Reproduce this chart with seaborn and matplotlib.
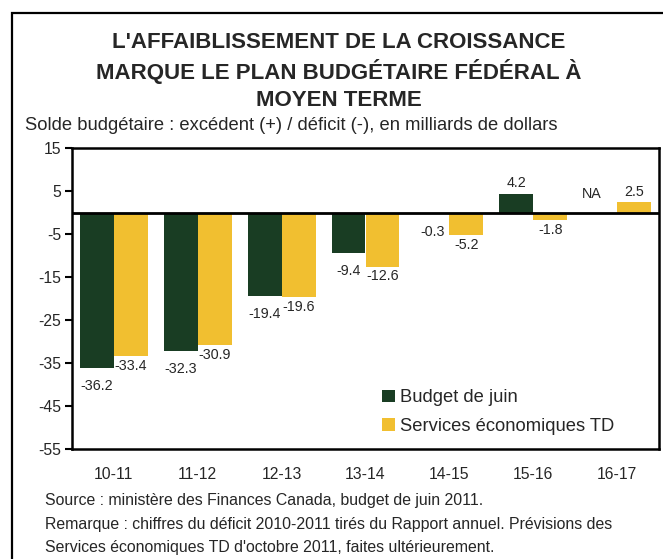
import numpy as np
import pandas as pd
import matplotlib
matplotlib.use("Agg")
import matplotlib.pyplot as plt
from matplotlib.patches import Rectangle
import seaborn as sns

# ---- data ----
years = ["10-11", "11-12", "12-13", "13-14", "14-15", "15-16", "16-17"]
budget_juin = [-36.2, -32.3, -19.4, -9.4, -0.3, 4.2, np.nan]
services_td = [-33.4, -30.9, -19.6, -12.6, -5.2, -1.8, 2.5]
series_names = ["Budget de juin", "Services économiques TD"]
colors = ["#193d23", "#f1bf30"]
y_ticks = [15, 5, -5, -15, -25, -35, -45, -55]

title_lines = ["L'AFFAIBLISSEMENT DE LA CROISSANCE",
               "MARQUE LE PLAN BUDGÉTAIRE FÉDÉRAL À",
               "MOYEN TERME"]
subtitle = "Solde budgétaire : excédent (+) / déficit (-), en milliards de dollars"
notes = ["Source : ministère des Finances Canada, budget de juin 2011.",
         "Remarque : chiffres du déficit 2010-2011 tirés du Rapport annuel. Prévisions des",
         "Services économiques TD d'octobre 2011, faites ultérieurement."]

df = pd.DataFrame({
    "annee": years * 2,
    "valeur": budget_juin + services_td,
    "serie": [series_names[0]] * len(years) + [series_names[1]] * len(years),
})

sns.set_theme(style="white")
plt.rcParams["font.family"] = ["Liberation Sans", "DejaVu Sans"]

W, H = 663, 559
fig = plt.figure(figsize=(W / 100, H / 100), dpi=100)
ax = fig.add_axes([72 / W, 1 - 449 / H, (659 - 72) / W, (449 - 148) / H])

sns.barplot(data=df, x="annee", y="valeur", hue="serie", order=years,
            hue_order=series_names, palette=colors, width=0.81, gap=0,
            saturation=1, errorbar=None, ax=ax, edgecolor="none", linewidth=0)

ax.set_xlim(-0.5, len(years) - 0.5)
ax.set_ylim(-55, 15)
ax.set_yticks(y_ticks)
ax.set_yticklabels([str(t) for t in y_ticks], fontsize=11.3)
ax.set_xlabel("")
ax.set_ylabel("")
ax.tick_params(axis="x", length=0, pad=13, labelsize=11.3)
ax.tick_params(axis="y", left=True, length=5, width=1.5, pad=3, color="black")
for s in ax.spines.values():
    s.set_visible(True)
    s.set_color("black")
    s.set_linewidth(1.8)
ax.axhline(0, color="black", lw=2, zorder=5)

# bar value labels
pads_neg = [13, 7]
pads_pos = [8, 7]
for ci, cont in enumerate(ax.containers):
    for p in cont.patches:
        h = p.get_height()
        if np.isnan(h):
            continue
        xc = p.get_x() + p.get_width() / 2
        if h < 0:
            ax.annotate(f"{h:.1f}", (xc, h), xytext=(0, -pads_neg[ci]),
                        textcoords="offset points", ha="center", va="center",
                        fontsize=10.3)
        else:
            ax.annotate(f"{h:.1f}", (xc, h), xytext=(0, pads_pos[ci]),
                        textcoords="offset points", ha="center", va="center",
                        fontsize=10.3)

# NA label for missing budget value
bw = ax.containers[1].patches[0].get_width()
for i, v in enumerate(budget_juin):
    if np.isnan(v):
        ax.annotate("NA", (i - bw / 2, 0), xytext=(-6, 13),
                    textcoords="offset points", ha="center", va="center",
                    fontsize=10.3)

leg = ax.legend(loc="lower left", bbox_to_anchor=(0.507, 0.003), frameon=False,
                fontsize=13.2, handlelength=0.7, handleheight=0.7,
                handletextpad=0.25, labelspacing=0.65, borderpad=0.2)

# titles
for k, line in enumerate(title_lines):
    fig.text(339 / W, 1 - (42 + 29 * k) / H, line, ha="center", va="center",
             fontsize=16, fontweight="bold")
fig.text(25 / W, 1 - 125 / H, subtitle, ha="left", va="center", fontsize=13.2)
for k, line in enumerate(notes):
    fig.text(45 / W, 1 - (500.5 + 23.5 * k) / H, line, ha="left", va="center",
             fontsize=11.4)

# outer frame
fig.add_artist(Rectangle((12 / W, -0.1), 1.2, 1 - 13 / H + 0.1,
                         transform=fig.transFigure, fill=False,
                         edgecolor="black", lw=1.6))

fig.savefig("out.png", dpi=100)
